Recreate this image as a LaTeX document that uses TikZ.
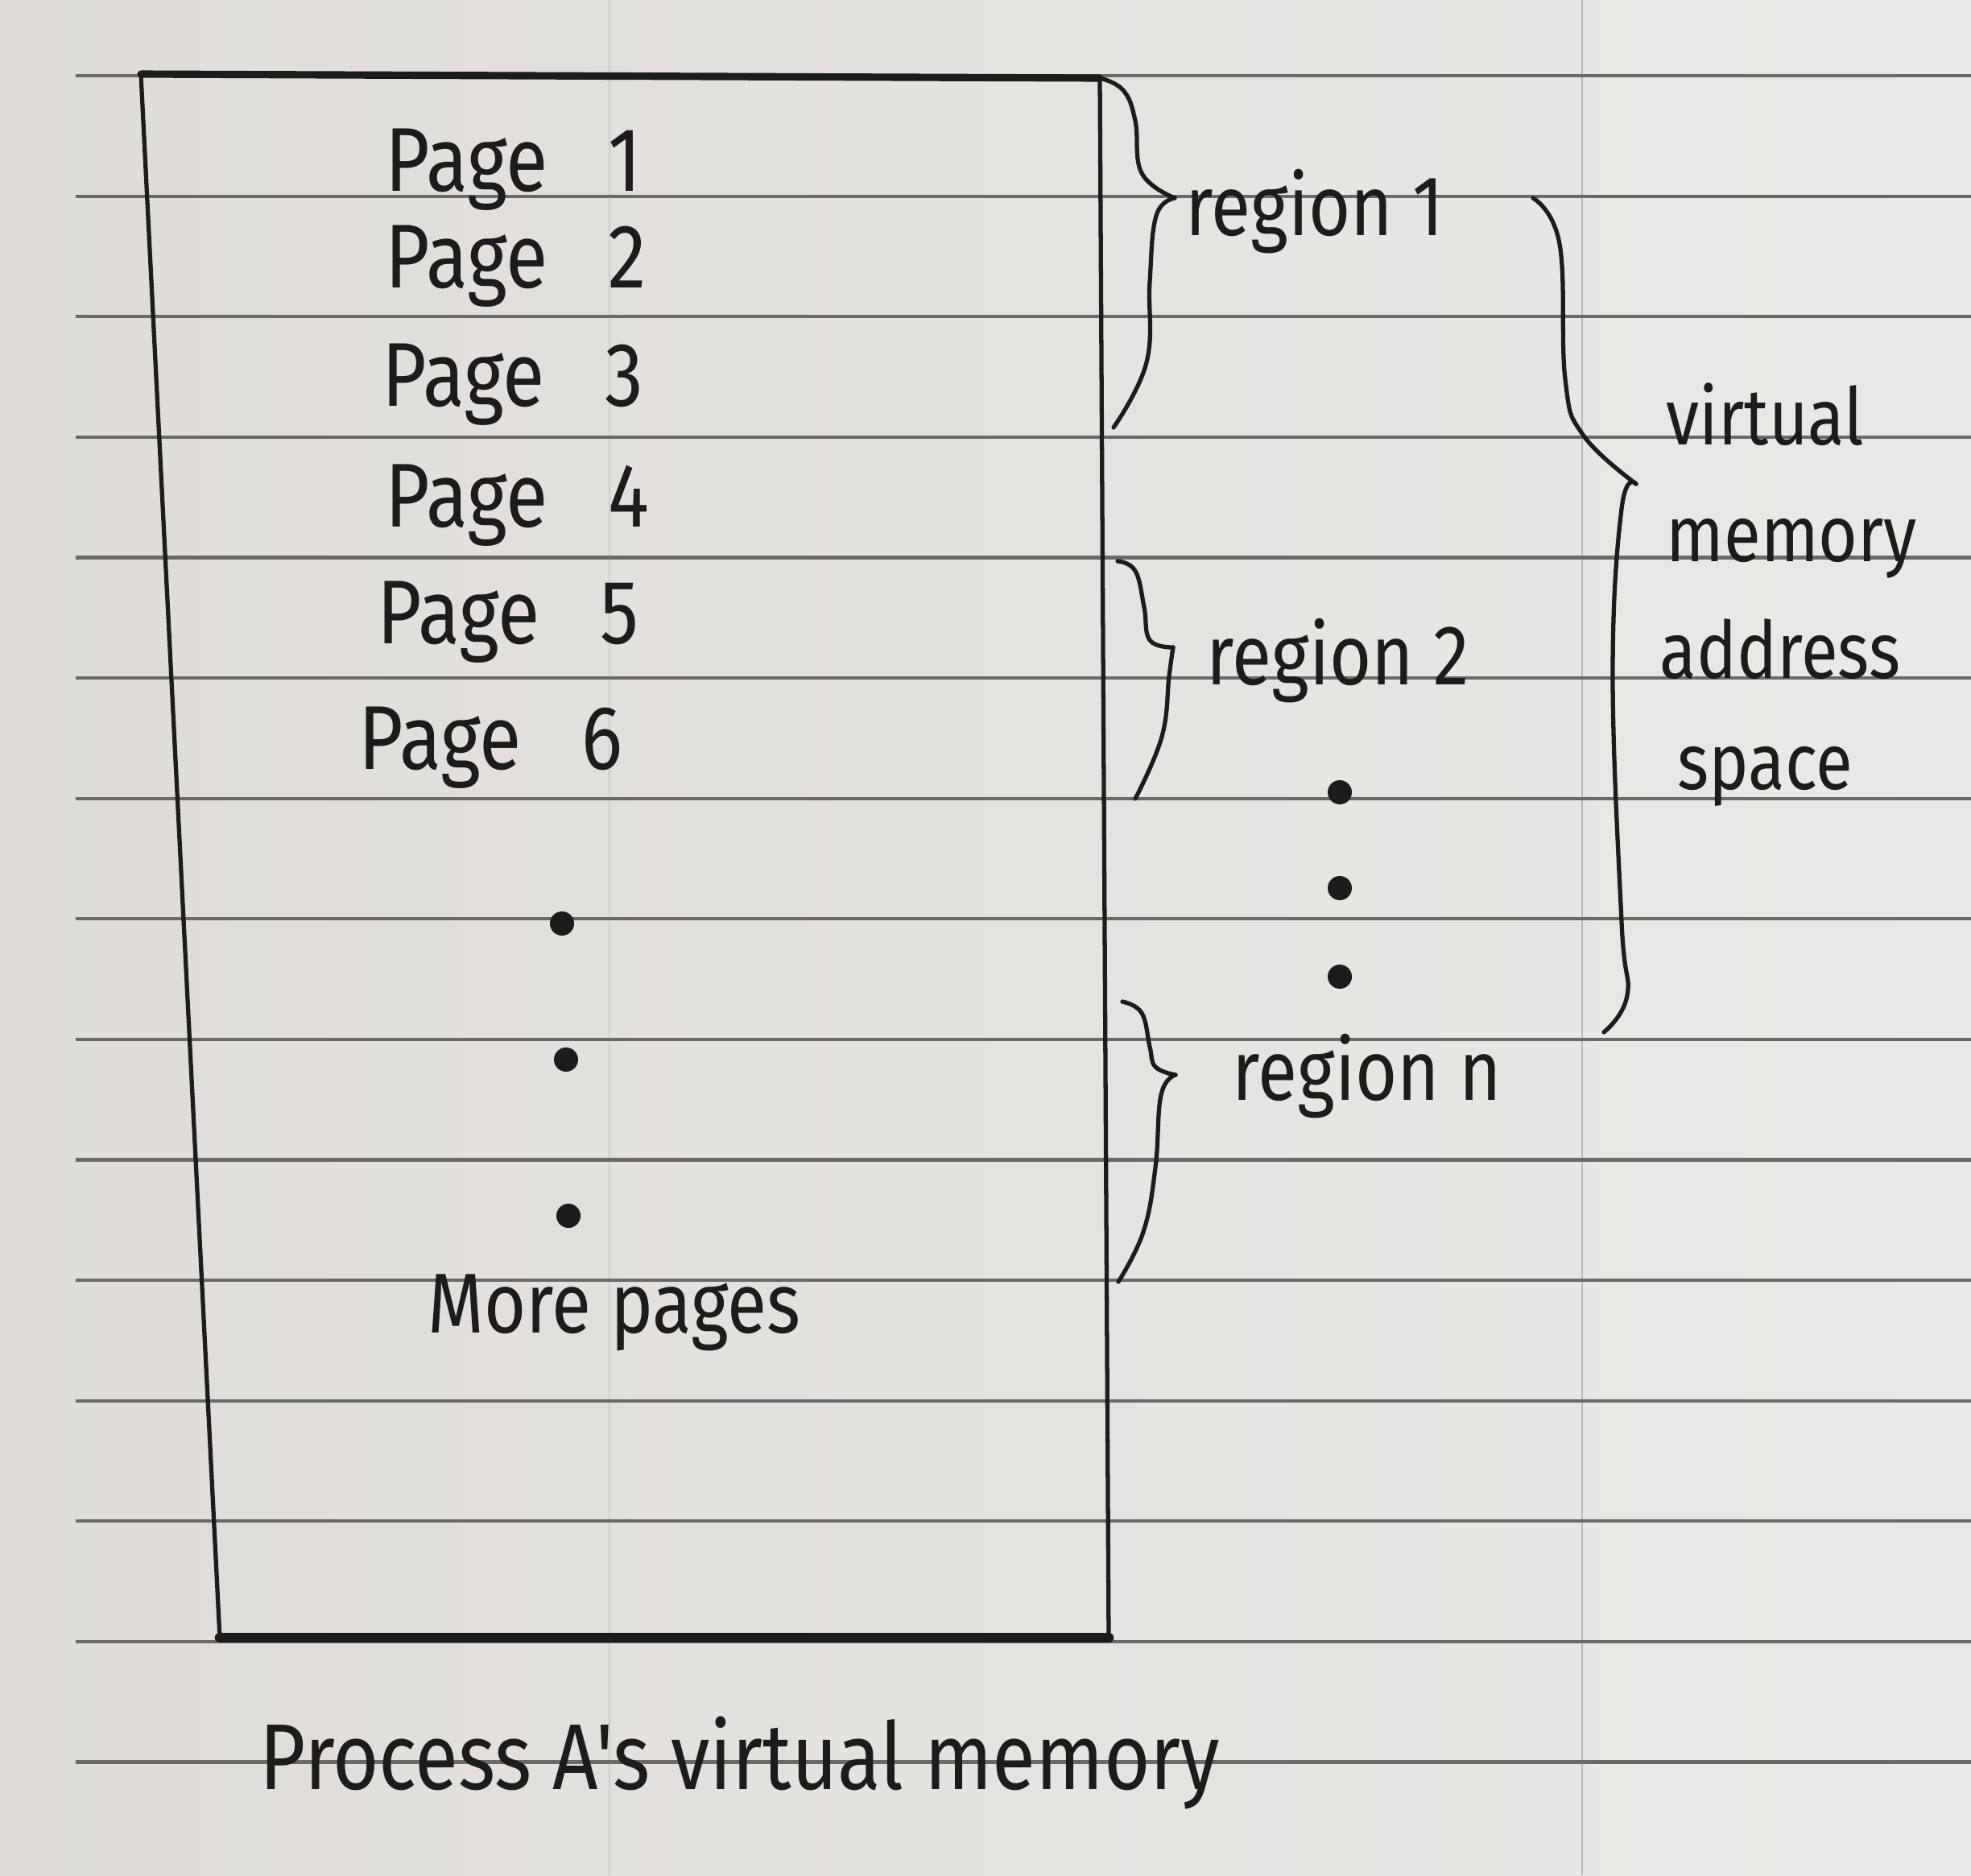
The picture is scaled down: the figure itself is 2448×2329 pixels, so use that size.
\documentclass[tikz,border=0pt]{standalone}
\usepackage{fontspec}
\newfontfamily\hand[FakeStretch=0.85]{Fira Sans}
\definecolor{paperL}{HTML}{DFDCD8}
\definecolor{paperR}{HTML}{EAE9E7}
\definecolor{ruling}{HTML}{6A6A6A}
\definecolor{ghost}{HTML}{CFCDCA}
\definecolor{ink}{HTML}{1C1C1C}
\begin{document}
\begin{tikzpicture}[x=0.01cm,y=-0.01cm,
  rulingline/.style={ruling, line width=1.2pt},
  pen/.style={ink, line width=1.5pt, line cap=round, line join=round},
  hw/.style={font=\hand\fontsize{30}{32}\selectfont, text=ink, inner sep=0pt, anchor=base west},
  pagelabel/.style={hw, font=\hand\fontsize{32}{34}\selectfont},
  sidelabel/.style={hw, font=\hand\fontsize{28}{30}\selectfont},
  captionlabel/.style={hw, font=\hand\fontsize{33}{35}\selectfont},
  inkdot/.style={circle, fill=ink, inner sep=0pt, minimum size=0.3cm}]

% paper
\shade[left color=paperL, right color=paperR] (0,0) rectangle (2448,2329);
\useasboundingbox (0,0) rectangle (2448,2329);
\draw[ghost, line width=0.8pt] (757,0) -- (757,2329);
\draw[ghost!90!black, line width=0.8pt] (1965,0) -- (1965,2329);
\foreach \i in {0,...,14}
  \draw[rulingline] (94,{94+149.6*\i}) -- (2448,{94+149.6*\i});

% memory box
\coordinate (tl) at (175,92);
\coordinate (tr) at (1366,97);
\coordinate (br) at (1377,2034);
\coordinate (bl) at (273,2034);
\draw[pen] (tl) -- (bl);
\draw[pen] (tr) -- (br);
\draw[pen, line width=2.6pt] (tl) -- (tr);
\draw[pen, line width=3.6pt] (bl) -- (br);

% page labels
\node[pagelabel] (p1) at (478,237) {Page\hspace{0.75cm}1};
\node[pagelabel] (p2) at (478,357) {Page\hspace{0.75cm}2};
\node[pagelabel] (p3) at (474,504) {Page\hspace{0.75cm}3};
\node[pagelabel] (p4) at (478,654) {Page\hspace{0.75cm}4};
\node[pagelabel] (p5) at (468,799) {Page\hspace{0.75cm}5};
\node[pagelabel] (p6) at (445,955) {Page\hspace{0.75cm}6};

\node[inkdot] (d1) at (698,1147) {};
\node[inkdot] (d2) at (703,1316) {};
\node[inkdot] (d3) at (706,1510) {};
\node[hw] (more) at (531,1655) {More pages};

% region braces
\draw[pen] plot[smooth, tension=0.7] coordinates {(1366,97) (1395,112) (1410,150) (1418,215) (1459,246)};
\draw[pen] plot[smooth, tension=0.7] coordinates {(1459,246) (1436,268) (1428,350) (1424,450) (1383,531)};
\node[hw] (r1) at (1472,292) {region 1};

\draw[pen] plot[smooth, tension=0.7] coordinates {(1388,697) (1410,709) (1421,754) (1428,795) (1457,804)};
\draw[pen] plot[smooth, tension=0.7] coordinates {(1457,804) (1452,840) (1443,915) (1410,992)};
\node[hw] (r2) at (1498,850) {region 2};

\node[inkdot] (e1) at (1664,984) {};
\node[inkdot] (e2) at (1664,1103) {};
\node[inkdot] (e3) at (1664,1213) {};

\draw[pen] plot[smooth, tension=0.7] coordinates {(1394,1244) (1418,1258) (1428,1300) (1435,1325) (1460,1335)};
\draw[pen] plot[smooth, tension=0.7] coordinates {(1460,1335) (1442,1360) (1435,1450) (1420,1530) (1389,1592)};
\node[hw] (rn) at (1530,1366) {region n};

% address-space brace
\draw[pen] plot[smooth, tension=0.7] coordinates {(1904,246) (1937,303) (1944,471) (1966,540) (2032,601)};
\draw[pen] plot[smooth, tension=0.7] coordinates {(2032,601) (2014,632) (2003,839) (2014,1145) (2021,1236) (1992,1282)};
\node[sidelabel] (v1) at (2069,552) {virtual};
\node[sidelabel] (v2) at (2069,697) {memory};
\node[sidelabel] (v3) at (2061,842) {address};
\node[sidelabel] (v4) at (2083,980) {space};

% caption
\node[captionlabel] (cap) at (322,2222) {Process A's virtual memory};
\end{tikzpicture}
\end{document}
